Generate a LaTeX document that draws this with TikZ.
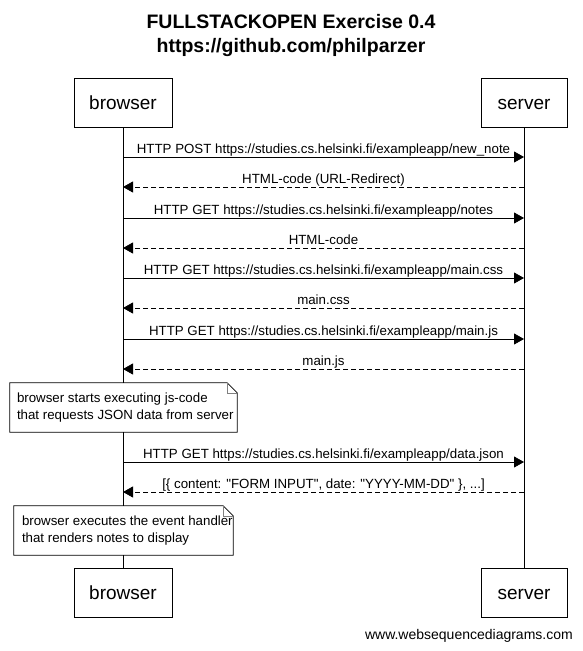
\documentclass[tikz,border=0pt]{standalone}
\usepackage{fontspec}
\setmainfont{Liberation Sans}
\usetikzlibrary{arrows.meta,positioning}

\tikzset{
    actor/.style={draw, line width=0.8pt, minimum height=49pt, inner sep=0pt,
        text height=13.7pt, text depth=0pt, font=\fontsize{19}{22}\selectfont},
    msg/.style={line width=0.8pt, -{Triangle[length=10pt,width=11pt]}},
    reply/.style={msg, dash pattern=on 5pt off 3pt},
    lbl/.style={anchor=base, yshift=3.5pt, inner sep=0pt, font=\fontsize{13.3}{15}\selectfont},
    notebox/.style={fill=white, inner sep=0pt, minimum height=49pt},
    notetext/.style={anchor=west, inner sep=0pt, align=left,
        font=\fontsize{13.3}{17}\selectfont},
}
% folded corner round a note node
\newcommand{\dogear}[1]{%
    \draw[line width=0.8pt] (#1.north west) -- ([xshift=-10pt]#1.north east)
        -- ([yshift=-10pt]#1.north east) -- (#1.south east)
        -- (#1.south west) -- cycle;
    \draw[gray, line width=0.6pt] ([xshift=-10pt]#1.north east)
        |- ([yshift=-10pt]#1.north east);
}
\newcommand{\qt}{\textquotedbl}

\begin{document}
\begin{tikzpicture}[x=1pt,y=-1pt]
    \useasboundingbox (0,0) rectangle (582,651);

    \node[font=\bfseries\fontsize{19.5}{24}\selectfont, align=center] (title) at (291,35.5)
        {FULLSTACKOPEN Exercise 0.4\\https://github.com/philparzer};

    % participants
    \node[actor, minimum width=98pt] (bt) at (123,102.5) {browser};
    \node[actor, minimum width=86pt] (st) at (524,102.5) {server};
    \node[actor, minimum width=98pt] (bb) at (123,592.5) {browser};
    \node[actor, minimum width=86pt] (sb) at (524,592.5) {server};

    % lifelines
    \draw[line width=0.8pt] (bt) -- (bb);
    \draw[line width=0.8pt] (st) -- (sb);

    \foreach \y [count=\i] in {157,187,218,248,278,308,339,369,462,492} {
        \coordinate (b\i) at (123,\y);
        \coordinate (s\i) at (524,\y);
    }

    \draw[msg] (b1) -- node[lbl] {HTTP POST https://studies.cs.helsinki.fi/exampleapp/new\_note} (s1);
    \draw[reply] (s2) -- node[lbl] {HTML-code (URL-Redirect)} (b2);
    \draw[msg] (b3) -- node[lbl] {HTTP GET https://studies.cs.helsinki.fi/exampleapp/notes} (s3);
    \draw[reply] (s4) -- node[lbl] {HTML-code} (b4);
    \draw[msg] (b5) -- node[lbl] {HTTP GET https://studies.cs.helsinki.fi/exampleapp/main.css} (s5);
    \draw[reply] (s6) -- node[lbl] {main.css} (b6);
    \draw[msg] (b7) -- node[lbl] {HTTP GET https://studies.cs.helsinki.fi/exampleapp/main.js} (s7);
    \draw[reply] (s8) -- node[lbl] {main.js} (b8);

    \node[notebox, minimum width=227pt] (n1) at (123.5,407.5) {};
    \dogear{n1}
    \node[notetext] (n1t) at ([xshift=7pt]n1.west)
        {browser starts executing js-code\\that requests JSON data from server};

    \draw[msg] (b9) -- node[lbl] {HTTP GET https://studies.cs.helsinki.fi/exampleapp/data.json} (s9);
    \draw[reply] (s10) -- node[lbl] {[\{ content: \qt FORM INPUT\qt, date: \qt YYYY-MM-DD\qt\ \}, ...]} (b10);

    \node[notebox, minimum width=219pt] (n2) at (123.5,530.5) {};
    \dogear{n2}
    \node[notetext] (n2t) at ([xshift=8pt]n2.west)
        {browser executes the event handler\\that renders notes to display};

    \node[anchor=east, inner sep=0pt, font=\fontsize{14}{16}\selectfont] (wsd) at (573,636)
        {www.websequencediagrams.com};
\end{tikzpicture}
\end{document}
